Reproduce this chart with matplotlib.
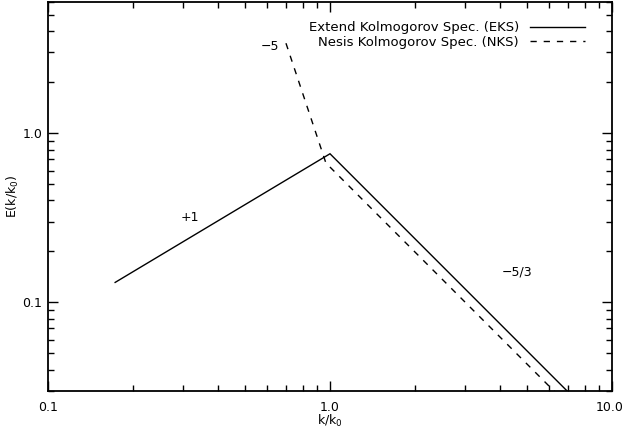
import matplotlib
matplotlib.use("Agg")
import matplotlib.pyplot as plt
import matplotlib.transforms as mtransforms
import numpy as np

# Extended Kolmogorov spectrum (EKS): breakpoints
eks_k = [0.173, 1.0, 7.0]
eks_E = [0.131, 0.755, 0.0294]

# Nesis Kolmogorov spectrum (NKS): breakpoints
nks_k = [0.698, 0.967, 6.3]
nks_E = [3.40, 0.666, 0.0293]

x_lim = (0.1, 10.0)
y_lim = (0.03, 6.0)
x_ticks = [0.1, 1.0, 10.0]
x_ticklabels = ["0.1", "1.0", "10.0"]
y_ticks = [0.1, 1.0]
y_ticklabels = ["0.1", "1.0"]

annotations = [("+1", 0.319, 0.318), ("\u22125", 0.61, 3.25), ("\u22125/3", 4.6, 0.152)]

plt.rcParams["font.family"] = ["DejaVu Sans"]
plt.rcParams["mathtext.default"] = "regular"
plt.rcParams["font.size"] = 9

fig = plt.figure(figsize=(6.24, 4.29), dpi=100)
ax = fig.add_axes([48 / 624, 1 - 390.7 / 429, (612 - 48) / 624, (390.7 - 1.5) / 429])

ax.plot(eks_k, eks_E, color="black", lw=1.0, solid_joinstyle="miter",
        label="Extend Kolmogorov Spec. (EKS)")
ax.plot(nks_k, nks_E, color="black", lw=1.0, dashes=(4.5, 5.0),
        label="Nesis Kolmogorov Spec. (NKS)")

ax.set_xscale("log")
ax.set_yscale("log")
ax.set_xlim(*x_lim)
ax.set_ylim(*y_lim)
ax.set_xticks(x_ticks)
ax.set_xticklabels(x_ticklabels)
ax.set_yticks(y_ticks)
ax.set_yticklabels(y_ticklabels)
ax.xaxis.set_minor_locator(matplotlib.ticker.LogLocator(base=10, subs=np.arange(2, 10)))
ax.yaxis.set_minor_locator(matplotlib.ticker.LogLocator(base=10, subs=np.arange(2, 10)))
ax.xaxis.set_minor_formatter(matplotlib.ticker.NullFormatter())
ax.yaxis.set_minor_formatter(matplotlib.ticker.NullFormatter())
ax.tick_params(which="both", direction="in", top=True, right=True, width=1.0, labelsize=9)
ax.tick_params(which="major", length=7.5)
ax.tick_params(axis="x", which="major", pad=7.5)
ax.tick_params(axis="y", which="major", pad=4)
ax.tick_params(which="minor", length=4)
for s in ax.spines.values():
    s.set_linewidth(1.3)

# keep the last x tick label inside the canvas
last = ax.get_xticklabels()[-1]
last.set_transform(last.get_transform() + mtransforms.ScaledTranslation(-2.5 / 100, 0, fig.dpi_scale_trans))

ax.set_xlabel("k/k$_0$", fontsize=9, labelpad=-1.0)
ax.set_ylabel("E(k/k$_0$)", fontsize=9, labelpad=1)

for txt, x, y in annotations:
    ax.text(x, y, txt, ha="center", va="center", fontsize=9)

ax.legend(loc="upper right", bbox_to_anchor=(0.952, 0.949), frameon=False, markerfirst=False,
          handlelength=4.2, handletextpad=0.8, labelspacing=0.1, fontsize=9.5,
          borderaxespad=0, borderpad=0)

fig.savefig("out.png", dpi=100)
